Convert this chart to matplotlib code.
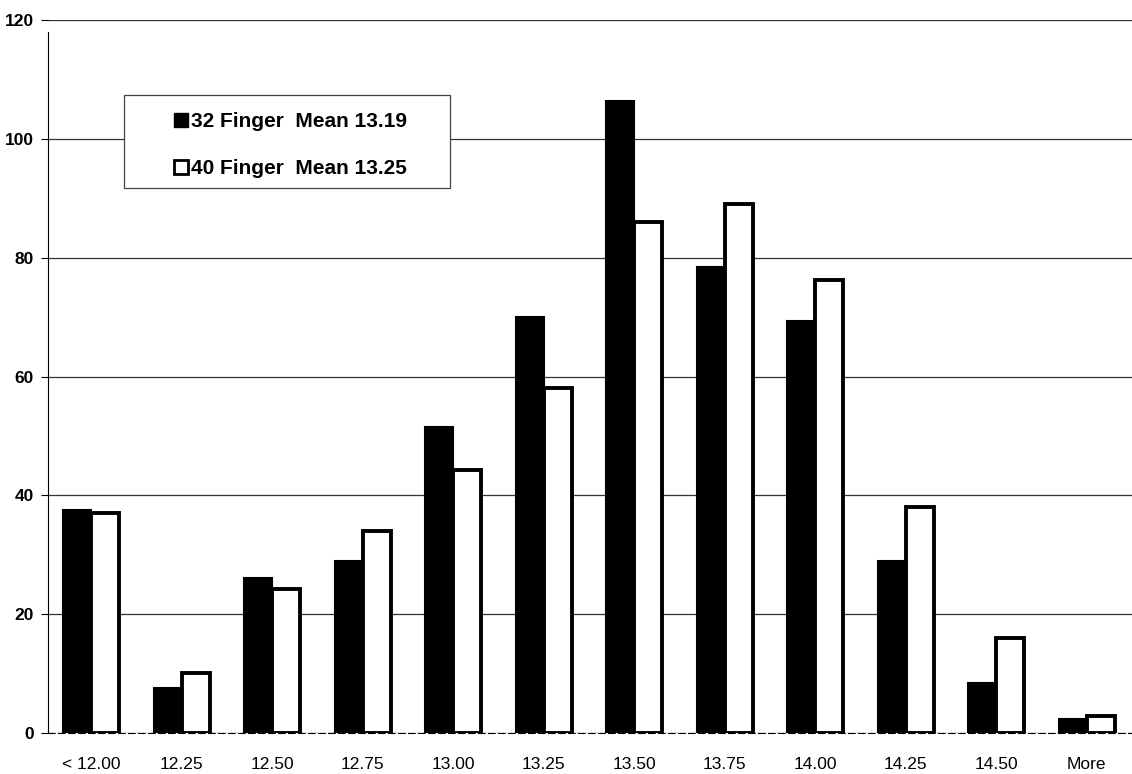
import matplotlib.pyplot as plt
import numpy as np
from matplotlib.lines import Line2D
from matplotlib.patches import Rectangle

plt.rcParams['font.family'] = ['Liberation Sans', 'DejaVu Sans']

categories = ["< 12.00", "12.25", "12.50", "12.75", "13.00", "13.25",
              "13.50", "13.75", "14.00", "14.25", "14.50", "More"]
finger32 = [37.5, 7.6, 26.1, 28.9, 51.5, 70.0, 106.4, 78.5, 69.4, 29.0, 8.4, 2.4]
finger40 = [37.1, 10.1, 24.2, 34.0, 44.2, 58.1, 86.0, 89.0, 76.2, 38.1, 16.0, 2.8]
yticks = [0, 20, 40, 60, 80, 100, 120]

fig = plt.figure(figsize=(11.32, 7.74), dpi=100)
ax = fig.add_axes([48 / 1132, 1 - 733 / 774, 1084 / 1132, 713 / 774])

x = np.arange(len(categories))
w = 0.31
ax.bar(x - w / 2, finger32, w, color="black", edgecolor="black", linewidth=1.5, zorder=3)
ax.bar(x + w / 2, finger40, w, color="white", edgecolor="black", linewidth=2.8, zorder=3)

ax.set_xlim(-0.48, 11.5)
ax.set_ylim(0, 120)
ax.set_yticks(yticks)
ax.set_yticklabels([str(v) for v in yticks], fontsize=12.5, fontweight="bold")
ax.set_xticks(x)
ax.set_xticklabels(categories, fontsize=12.5)
ax.tick_params(axis="x", length=0, pad=17)
ax.tick_params(axis="y", length=5, width=0.8, pad=5)
ax.yaxis.grid(True, color="#333333", linewidth=0.9, zorder=0)

for s in ("top", "right"):
    ax.spines[s].set_visible(False)
ax.spines["left"].set_linewidth(0.8)
ax.spines["left"].set_bounds(0, 118)
ax.spines["bottom"].set_linewidth(0.8)
ax.spines["bottom"].set_linestyle((0, (6, 3)))

# legend box
ax.add_patch(Rectangle((0.0701, 0.7644), 0.3007, 0.1304, transform=ax.transAxes,
                       facecolor="white", edgecolor="#444444", linewidth=0.9,
                       zorder=4, clip_on=False))

handles = [
    Line2D([], [], marker="s", linestyle="none", markersize=10.5,
           markerfacecolor="black", markeredgecolor="black"),
    Line2D([], [], marker="s", linestyle="none", markersize=10,
           markerfacecolor="white", markeredgecolor="black", markeredgewidth=2),
]
leg = ax.legend(handles, ["32 Finger  Mean 13.19", "40 Finger  Mean 13.25"],
                loc="upper left", bbox_to_anchor=(0.1162, 0.871),
                prop={"size": 15, "weight": "bold"}, frameon=False,
                handlelength=0.7, handletextpad=0.12, labelspacing=1.35,
                borderpad=0, borderaxespad=0)
leg.set_zorder(5)

fig.savefig("out.png", dpi=100)
